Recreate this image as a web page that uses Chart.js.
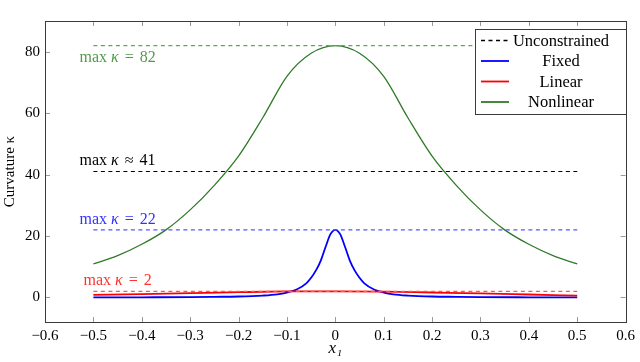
<!DOCTYPE html>
<html><head><meta charset="utf-8">
<script src="https://cdn.jsdelivr.net/npm/chart.js@4.4.0/dist/chart.umd.min.js"></script>
<style>html,body{margin:0;padding:0;background:#fff}#wrap{width:640px;height:362px;position:relative}</style>
</head><body><div id="wrap"><canvas id="c" width="640" height="362"></canvas></div>
<script>
// ---- data ----
const xTicks = [-0.6,-0.5,-0.4,-0.3,-0.2,-0.1,0,0.1,0.2,0.3,0.4,0.5,0.6];
const yTicks = [0,20,40,60,80];

const nonlinearX = [-0.5,-0.45,-0.4,-0.35,-0.3,-0.25,-0.2,-0.15,-0.1,-0.05,0,0.05,0.1,0.15,0.2,0.25,0.3,0.35,0.4,0.45,0.5];
const nonlinearY = [10.9,13.6,17.3,22,28.5,36.5,46,58.5,72,79.5,82,79.5,72,58.5,46,36.5,28.5,22,17.3,13.6,10.9];

const fixedX = [-0.5,-0.4,-0.3,-0.25,-0.2,-0.15,-0.12,-0.1,-0.08,-0.06,-0.05,-0.04,-0.03,-0.02,-0.01,0,0.01,0.02,0.03,0.04,0.05,0.06,0.08,0.1,0.12,0.15,0.2,0.25,0.3,0.4,0.5];
const fixedY = [0,0.05,0.12,0.2,0.3,0.6,1.0,1.6,2.6,4.6,6.4,8.8,12,16.5,20.6,22,20.6,16.5,12,8.8,6.4,4.6,2.6,1.6,1.0,0.6,0.3,0.2,0.12,0.05,0];

const linearX = [-0.5,-0.4,-0.3,-0.2,-0.1,0,0.1,0.2,0.3,0.4,0.5];
const linearY = [0.8,1.1,1.4,1.7,1.95,2.0,1.9,1.6,1.3,0.95,0.6];

const refX = [-0.5, 0.5];
const unconstrainedLevel = 41;
const fixedMax = 22;
const linearMax = 2;
const nonlinearMax = 82;

// ---- helpers ----
const pts = (xs, ys) => xs.map((x, i) => ({x, y: ys[i]}));
const flat = (v) => refX.map(x => ({x, y: v}));

const GREEN = 'rgb(47,122,40)';
const GREEN_L = 'rgb(95,165,90)';
const BLUE = 'rgb(0,0,255)';
const BLUE_L = 'rgb(85,85,255)';
const RED = 'rgb(255,0,0)';
const RED_L = 'rgb(255,85,85)';
const SERIF = "'Liberation Serif', 'Times New Roman', serif";
Chart.defaults.font.family = SERIF;
Chart.defaults.color = '#000';

const datasets = [
  {label:'Unconstrained', data: flat(unconstrainedLevel), borderColor:'#000', borderWidth:1.2, borderDash:[4,3.5], legend:true, dash:true},
  {label:'refGreen', data: flat(nonlinearMax), borderColor:GREEN_L, borderWidth:1.2, borderDash:[4,3.5]},
  {label:'refBlue', data: flat(fixedMax), borderColor:BLUE_L, borderWidth:1.3, borderDash:[4,3.5]},
  {label:'refRed', data: flat(linearMax), borderColor:RED_L, borderWidth:1.2, borderDash:[4,3.5]},
  {label:'Nonlinear', data: pts(nonlinearX, nonlinearY), borderColor:GREEN, borderWidth:1.3, cubicInterpolationMode:'monotone', legend:true},
  {label:'Linear', data: pts(linearX, linearY), borderColor:RED, borderWidth:1.8, cubicInterpolationMode:'monotone', legend:true},
  {label:'Fixed', data: pts(fixedX, fixedY), borderColor:BLUE, borderWidth:1.8, cubicInterpolationMode:'monotone', legend:true},
];

const legendOrder = ['Unconstrained','Fixed','Linear','Nonlinear'];

const annotations = [
  {value: nonlinearMax, rel:'=', num:'82', color:'rgb(80,155,75)', dy: 12},
  {value: unconstrainedLevel, rel:'\u2248', num:'41', color:'#000', dy: -11},
  {value: fixedMax, rel:'=', num:'22', color:'rgb(50,50,255)', dy: -10.5},
  {value: linearMax, rel:'=', num:'2', color:'rgb(255,50,50)', dy: -10.5},
];
const annotX = -0.45;

const fmt = v => { const r = Math.round(v*10)/10; if (r === 0) return '0'; return (r < 0 ? '\u2212' : '') + Math.abs(r).toFixed(1); };

const framePlugin = {
  id:'frame',
  afterDraw(chart){
    const {ctx, chartArea:a, scales:{x, y}} = chart;
    ctx.save();
    // inner ticks
    ctx.strokeStyle = '#9a9a9a'; ctx.lineWidth = 1;
    ctx.beginPath();
    xTicks.forEach(t => { const px = Math.round(x.getPixelForValue(t)) + 0.5;
      ctx.moveTo(px, a.bottom); ctx.lineTo(px, a.bottom - 5);
      ctx.moveTo(px, a.top); ctx.lineTo(px, a.top + 5); });
    yTicks.forEach(t => { const py = Math.round(y.getPixelForValue(t)) + 0.5;
      ctx.moveTo(a.left, py); ctx.lineTo(a.left + 5, py);
      ctx.moveTo(a.right, py); ctx.lineTo(a.right - 5, py); });
    ctx.stroke();
    // frame
    ctx.strokeStyle = '#3a3a3a'; ctx.lineWidth = 1;
    ctx.strokeRect(Math.round(a.left)+0.5, Math.round(a.top)+0.5, Math.round(a.right - a.left), Math.round(a.bottom - a.top));

    // annotations
    ctx.textBaseline = 'middle';
    annotations.forEach(an => {
      const cx = x.getPixelForValue(annotX);
      const cy = y.getPixelForValue(an.value) + an.dy;
      const parts = [
        {t:'max', f:'16px ' + SERIF, gap:4},
        {t:'\u03BA', f:'italic 16px ' + SERIF, gap:6},
        {t:an.rel, f:'16px ' + SERIF, gap:6},
        {t:an.num, f:'16px ' + SERIF, gap:0},
      ];
      let w = 0;
      parts.forEach(p => { ctx.font = p.f; p.w = ctx.measureText(p.t).width; w += p.w + p.gap; });
      let px = cx - w/2;
      ctx.fillStyle = an.color;
      ctx.textAlign = 'left';
      parts.forEach(p => { ctx.font = p.f; ctx.fillText(p.t, px, cy); px += p.w + p.gap; });
    });

    // legend
    const L = {x:475.5, y:29.5, w:151, h:85, row:20.5, first:40.5};
    ctx.fillStyle = '#fff';
    ctx.fillRect(L.x, L.y, L.w, L.h);
    ctx.strokeStyle = '#3a3a3a'; ctx.lineWidth = 1;
    ctx.strokeRect(L.x, L.y, L.w, L.h);
    legendOrder.forEach((name, i) => {
      const ds = chart.data.datasets.find(d => d.label === name);
      const ry = L.first + i * L.row;
      ctx.beginPath();
      ctx.strokeStyle = ds.borderColor;
      ctx.lineWidth = ds.dash ? 1.3 : 1.8;
      ctx.setLineDash(ds.dash ? [4,3.5] : []);
      ctx.moveTo(481, ry); ctx.lineTo(509, ry);
      ctx.stroke();
      ctx.setLineDash([]);
      ctx.fillStyle = '#000';
      ctx.font = '16.5px ' + SERIF;
      ctx.textAlign = 'center';
      ctx.fillText(name, 561, ry + 1);
    });
    ctx.restore();
  }
};

new Chart(document.getElementById('c'), {
  type:'line',
  data:{datasets},
  options:{
    responsive:false, animation:false, devicePixelRatio:1,
    layout:{padding:{left:0, top:21, right:12, bottom:0}},
    elements:{point:{radius:0}, line:{tension:0}},
    plugins:{legend:{display:false}, tooltip:{enabled:false}},
    scales:{
      x:{type:'linear', min:-0.6, max:0.6,
        afterBuildTicks: s => { s.ticks = xTicks.map(v => ({value:v})); },
        afterFit: s => { s.height = 40; },
        grid:{display:false, drawTicks:false}, border:{display:false},
        ticks:{callback: v => fmt(v), font:{family:SERIF, size:15}, color:'#000', padding:5, maxRotation:0, autoSkip:false},
        title:{display:true, text:'x\u2081', font:{family:SERIF, size:17, style:'italic'}, color:'#000', padding:{top:0, bottom:3}}
      },
      y:{type:'linear', min:-8, max:90,
        afterBuildTicks: s => { s.ticks = yTicks.map(v => ({value:v})); },
        afterFit: s => { s.width = 45; },
        grid:{display:false, drawTicks:false}, border:{display:false},
        ticks:{callback: v => String(v), font:{family:SERIF, size:15}, color:'#000', padding:5},
        title:{display:true, text:'Curvature \u03BA', font:{family:SERIF, size:15}, color:'#000', padding:{top:1, bottom:0}}
      }
    }
  },
  plugins:[framePlugin]
});
</script></body></html>
